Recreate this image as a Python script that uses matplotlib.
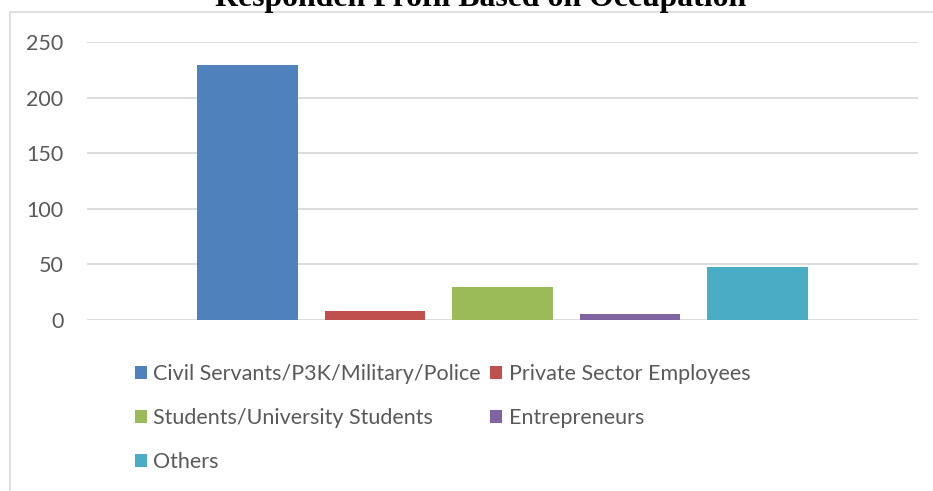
import matplotlib.pyplot as plt
from matplotlib.patches import Rectangle

categories = ["Civil Servants/P3K/Military/Police", "Private Sector Employees",
              "Students/University Students", "Entrepreneurs", "Others"]
counts = [229, 8, 30, 5, 48]
colors = ["#4F81BD", "#C0504D", "#9BBB59", "#8064A2", "#4BACC6"]
yticks = [0, 50, 100, 150, 200, 250]

plt.rcParams['font.family'] = ['Lato', 'DejaVu Sans']

fig = plt.figure(figsize=(9.33, 4.91), dpi=100)

# chart border (cut off on the right and bottom in the reference)
fig.patches.append(Rectangle((10 / 933, -0.1), 1.2, 1 - 12 / 491 + 0.1,
                             transform=fig.transFigure, fill=False,
                             edgecolor='#d9d9d9', linewidth=1.2))

ax = fig.add_axes([87 / 933, 1 - 320 / 491, (918 - 87) / 933, (320 - 42) / 491])

bars = []
for i in range(len(categories)):
    b = ax.bar(i, counts[i], width=0.79, color=colors[i], label=categories[i], zorder=3)
    bars.append(b)

ax.set_ylim(0, 250)
ax.set_xlim(-1.259, 5.259)
ax.set_yticks(yticks)
ax.set_xticks([])
ax.tick_params(axis='y', length=0, pad=17, labelsize=15.5, labelcolor='#595959')
for s in ax.spines.values():
    s.set_visible(False)
ax.grid(True, axis='y', color='#d9d9d9', linewidth=1.3, zorder=0)

fig.text(481 / 933, 1 - 6 / 491, "Responden Profil Based on Occupation",
         ha='center', va='baseline', fontsize=22.9, fontweight='bold',
         family=['Liberation Serif'])

order = [0, 2, 4, 1, 3]
leg = fig.legend([bars[i] for i in order], [categories[i] for i in order],
                 ncol=2, loc='upper left', bbox_to_anchor=(124 / 933, 1 - 353 / 491),
                 frameon=False, fontsize=15.5, handlelength=0.55, handleheight=0.55,
                 handletextpad=0.3, columnspacing=0.45, labelspacing=1.12,
                 borderpad=0, labelcolor='#595959')

plt.savefig("out.png", dpi=100)
